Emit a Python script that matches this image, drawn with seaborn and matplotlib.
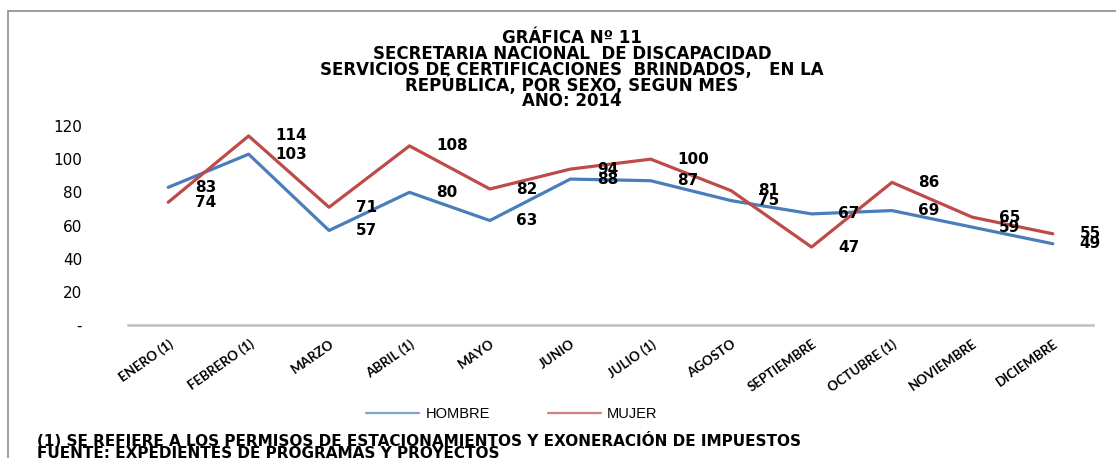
import pandas as pd
import matplotlib.pyplot as plt
import seaborn as sns
from matplotlib.patches import Rectangle
from matplotlib.lines import Line2D

# Data
meses = ['ENERO (1)', 'FEBRERO (1)', 'MARZO', 'ABRIL (1)', 'MAYO', 'JUNIO',
         'JULIO (1)', 'AGOSTO', 'SEPTIEMBRE', 'OCTUBRE (1)', 'NOVIEMBRE', 'DICIEMBRE']
hombre = [83, 103, 57, 80, 63, 88, 87, 75, 67, 69, 59, 49]
mujer = [74, 114, 71, 108, 82, 94, 100, 81, 47, 86, 65, 55]
y_ticks = [0, 20, 40, 60, 80, 100, 120]
y_ticklabels = ['-', '20', '40', '60', '80', '100', '120']
titulo = ['GRÁFICA Nº 11',
          'SECRETARIA NACIONAL  DE DISCAPACIDAD',
          'SERVICIOS DE CERTIFICACIONES  BRINDADOS,   EN LA',
          'REPÚBLICA, POR SEXO, SEGUN MES',
          'AÑO: 2014']
notas = ['(1) SE REFIERE A LOS PERMISOS DE ESTACIONAMIENTOS Y EXONERACIÓN DE IMPUESTOS',
         'FUENTE: EXPEDIENTES DE PROGRAMAS Y PROYECTOS']

df = pd.DataFrame({
    'mes': meses * 2,
    'pos': list(range(len(meses))) * 2,
    'valor': hombre + mujer,
    'sexo': ['HOMBRE'] * len(meses) + ['MUJER'] * len(meses),
})

colors = {'HOMBRE': '#4A7EBB', 'MUJER': '#BE4B48'}

sns.set_style('white')
plt.rcParams['font.family'] = ['DejaVu Sans']
plt.rcParams['text.color'] = 'black'
plt.rcParams['xtick.color'] = 'black'
plt.rcParams['ytick.color'] = 'black'

W, H = 1116, 458
fig = plt.figure(figsize=(W / 100, H / 100), dpi=100)
ax = fig.add_axes([128 / W, 1 - 325 / H, (1093 - 128) / W, (325 - 126) / H])

sns.lineplot(data=df, x='pos', y='valor', hue='sexo', palette=colors,
             linewidth=2.3, ax=ax, legend=False)

# data labels, to the right of each point
for vals in [hombre, mujer]:
    for i, v in enumerate(vals):
        ax.text(i + 0.33, v, str(v), ha='left', va='center',
                fontsize=11, fontweight='bold', color='black')

ax.set_xlim(-0.5, 11.5)
ax.set_ylim(0, 120)
ax.set_yticks(y_ticks)
ax.set_yticklabels(y_ticklabels, fontsize=11)
ax.set_xticks(range(len(meses)))
ax.set_xticklabels(meses, rotation=35, ha='right', rotation_mode='anchor',
                   fontsize=9.5, fontweight='bold', family=['Lato', 'DejaVu Sans'])
ax.tick_params(axis='x', length=0, pad=9)
ax.tick_params(axis='y', length=0, pad=33)
ax.set_xlabel('')
ax.set_ylabel('')
for s in ['top', 'right', 'left']:
    ax.spines[s].set_visible(False)
ax.spines['bottom'].set_color('#BFBFBF')
ax.spines['bottom'].set_linewidth(1.8)

# chart border (only left and top visible in the crop)
fig.patches.append(Rectangle((8 / W, -0.1), 1.2, 1 - 11 / H + 0.1,
                             transform=fig.transFigure, fill=False,
                             edgecolor='#8C8C8C', linewidth=1.2))

for i, linea in enumerate(titulo):
    fig.text(572 / W, 1 - (38 + 15.8 * i) / H, linea,
             ha='center', va='center', fontsize=12, fontweight='bold')

handles = [Line2D([], [], color=colors['HOMBRE'], lw=1.6, alpha=0.7),
           Line2D([], [], color=colors['MUJER'], lw=1.6, alpha=0.7)]
fig.legend(handles, ['HOMBRE', 'MUJER'], loc='center', ncol=2,
           bbox_to_anchor=(512 / W, 1 - 414 / H), frameon=False,
           prop={'family': 'Liberation Sans', 'size': 10.5},
           handlelength=3.6, columnspacing=4, handletextpad=0.45)

for i, nota in enumerate(notas):
    fig.text(37 / W, 1 - (440 + 13 * i) / H, nota,
             ha='left', va='center', fontsize=11, fontweight='bold')

fig.savefig('out.png', dpi=100)
